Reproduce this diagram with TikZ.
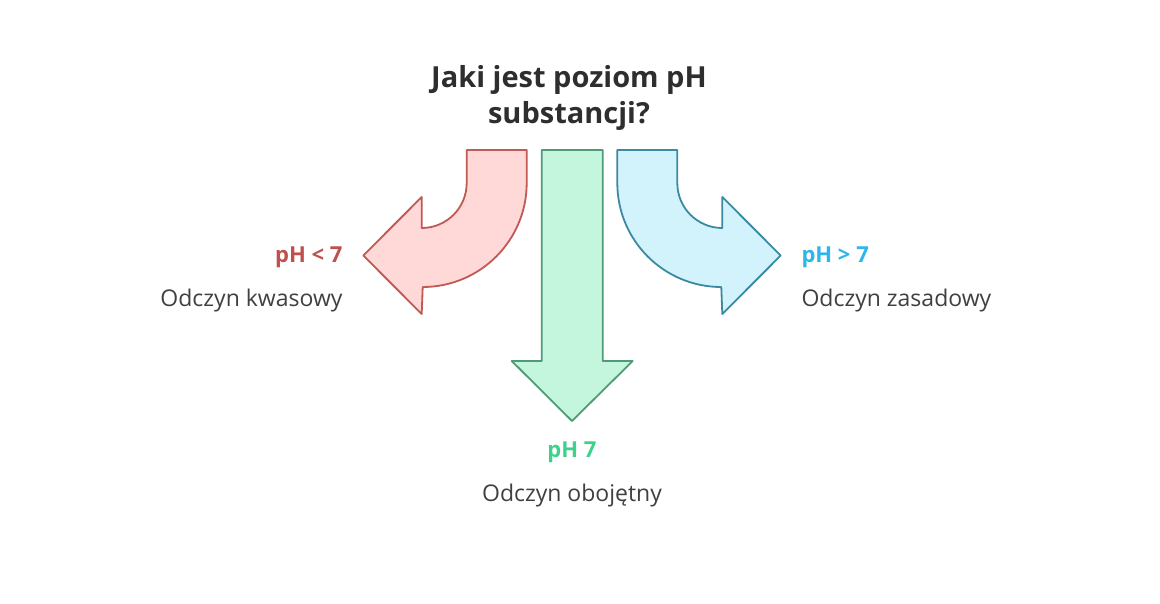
\documentclass[tikz,border=0pt]{standalone}
\usepackage{fontspec}
\setmainfont{Open Sans}
\begin{document}
\begin{tikzpicture}[x=1pt,y=-1pt,
  arr/.style={line width=1.8pt,line join=round},
  lbl/.style={font=\fontsize{23}{26}\selectfont,text=black!75},
  hd/.style={font=\fontsize{22}{26}\selectfont\bfseries}]
\definecolor{rf}{HTML}{FFD8D8}\definecolor{rs}{HTML}{C05A55}
\definecolor{gf}{HTML}{C4F6DD}\definecolor{gs}{HTML}{509A78}
\definecolor{bf}{HTML}{D2F3FC}\definecolor{bs}{HTML}{3C8AA2}
\definecolor{rt}{HTML}{C0504D}\definecolor{gt}{HTML}{3ED18C}\definecolor{bt}{HTML}{2EB6EA}
\useasboundingbox (0,0) rectangle (1160,603);
\fill[white] (0,0) rectangle (1160,603);
% red
\draw[arr,fill=rf,draw=rs] (466.7,150) -- (526.7,150) -- (526.7,183)
  arc[start angle=0,end angle=90,radius=104] -- (421.7,314) -- (363.3,255.5) -- (421.7,197) -- (421.7,228)
  arc[start angle=90,end angle=0,radius=45] -- cycle;
% blue
\draw[arr,fill=bf,draw=bs] (677.3,150) -- (617.3,150) -- (617.3,183)
  arc[start angle=180,end angle=90,radius=104] -- (722.3,314) -- (780.7,255.5) -- (722.3,197) -- (722.3,228)
  arc[start angle=90,end angle=180,radius=45] -- cycle;
% green
\draw[arr,fill=gf,draw=gs] (541.7,150) -- (602.7,150) -- (602.7,361) -- (632.7,361) -- (572,421) -- (511.7,361) -- (541.7,361) -- cycle;
\node[font=\fontsize{29}{36}\selectfont\bfseries,text=black!82,align=center] (t) at (569,98) {Jaki jest poziom pH\\substancji?};
\node[hd,text=rt,anchor=east] (a) at (346,257) {pH < 7};
\node[lbl,anchor=east] (a2) at (346,301) {Odczyn kwasowy};
\node[hd,text=bt,anchor=west] (c) at (798,257) {pH > 7};
\node[lbl,anchor=west] (c2) at (798,301) {Odczyn zasadowy};
\node[hd,text=gt] (b) at (572,452) {pH 7};
\node[lbl] (b2) at (572,496) {Odczyn obojętny};
\end{tikzpicture}
\end{document}
